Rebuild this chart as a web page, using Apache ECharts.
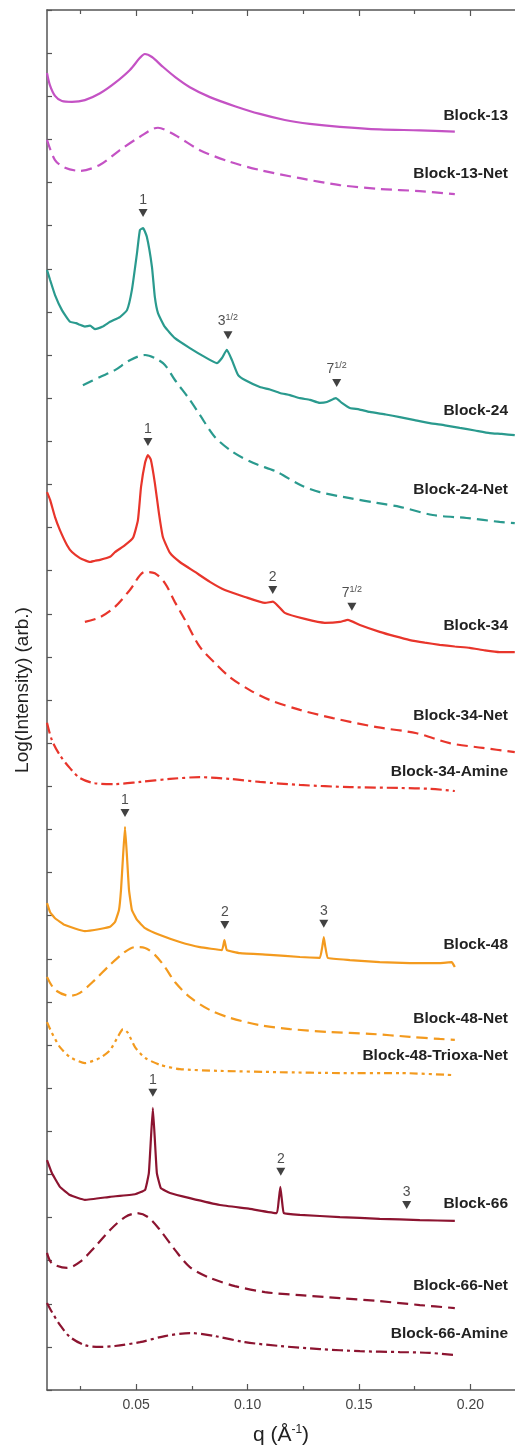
<!DOCTYPE html>
<html><head><meta charset="utf-8">
<script src="https://cdn.jsdelivr.net/npm/echarts@6/dist/echarts.min.js"></script>
<style>html,body{margin:0;padding:0;background:#fff}#c{width:515px;height:1451px}</style>
</head><body><div id="c"></div>
<script>
// ---------- DATA (q in 1/Å, log-intensity in arbitrary offset units) ----------
const xTickLabels = [0.05, 0.10, 0.15, 0.20];
const xMinorTicks = [0.025, 0.075, 0.125, 0.175];

const block13 = [[0.0100,30.54],[0.0113,30.26],[0.0136,30.01],[0.0167,29.89],[0.0212,29.87],[0.0270,29.91],[0.0338,30.07],[0.0405,30.31],[0.0472,30.61],[0.0517,30.89],[0.0539,30.98],[0.0571,30.91],[0.0616,30.70],[0.0674,30.45],[0.0741,30.21],[0.0831,29.98],[0.0943,29.77],[0.1055,29.59],[0.1167,29.45],[0.1279,29.36],[0.1414,29.29],[0.1593,29.23],[0.1773,29.21],[0.1930,29.18]];
const block13Net = [[0.0100,28.99],[0.0136,28.52],[0.0181,28.34],[0.0248,28.27],[0.0338,28.41],[0.0427,28.75],[0.0517,29.06],[0.0598,29.27],[0.0674,29.10],[0.0786,28.75],[0.0921,28.48],[0.1055,28.29],[0.1235,28.10],[0.1414,27.94],[0.1593,27.85],[0.1773,27.80],[0.1930,27.73]];
const block24 = [[0.0100,25.97],[0.0114,25.74],[0.0136,25.39],[0.0167,25.04],[0.0203,24.77],[0.0230,24.74],[0.0248,24.70],[0.0270,24.66],[0.0293,24.68],[0.0315,24.60],[0.0350,24.66],[0.0383,24.77],[0.0427,24.88],[0.0459,25.04],[0.0481,25.51],[0.0504,26.37],[0.0517,26.90],[0.0531,26.94],[0.0548,26.74],[0.0571,26.04],[0.0584,25.34],[0.0598,24.97],[0.0629,24.65],[0.0674,24.39],[0.0741,24.16],[0.0809,23.95],[0.0862,23.81],[0.0885,23.93],[0.0907,24.12],[0.0930,23.88],[0.0957,23.54],[0.0988,23.42],[0.1055,23.26],[0.1100,23.20],[0.1145,23.12],[0.1190,23.07],[0.1235,23.00],[0.1280,22.96],[0.1324,22.89],[0.1356,22.91],[0.1396,23.00],[0.1423,22.89],[0.1459,22.77],[0.1500,22.74],[0.1548,22.68],[0.1620,22.62],[0.1683,22.56],[0.1750,22.49],[0.1818,22.42],[0.1885,22.37],[0.1952,22.31],[0.2020,22.25],[0.2087,22.19],[0.2140,22.17],[0.2199,22.14]];
const block24Net = [[0.0261,23.30],[0.0338,23.49],[0.0405,23.65],[0.0472,23.88],[0.0540,24.00],[0.0584,23.93],[0.0629,23.77],[0.0674,23.42],[0.0741,22.96],[0.0786,22.61],[0.0853,22.10],[0.0934,21.75],[0.1024,21.50],[0.1131,21.29],[0.1235,20.99],[0.1324,20.82],[0.1459,20.68],[0.1580,20.57],[0.1683,20.48],[0.1831,20.29],[0.1983,20.22],[0.2131,20.13],[0.2199,20.10]];
const block34 = [[0.0100,20.82],[0.0114,20.64],[0.0136,20.24],[0.0158,19.94],[0.0190,19.59],[0.0212,19.43],[0.0248,19.29],[0.0270,19.24],[0.0293,19.20],[0.0315,19.23],[0.0338,19.25],[0.0383,19.32],[0.0405,19.43],[0.0450,19.59],[0.0486,19.76],[0.0508,20.17],[0.0522,20.94],[0.0540,21.50],[0.0553,21.68],[0.0566,21.57],[0.0584,21.03],[0.0602,20.34],[0.0620,19.78],[0.0652,19.41],[0.0696,19.20],[0.0764,18.97],[0.0831,18.74],[0.0898,18.55],[0.0988,18.39],[0.1078,18.25],[0.1114,18.28],[0.1167,18.02],[0.1257,17.88],[0.1347,17.79],[0.1414,17.81],[0.1450,17.86],[0.1504,17.74],[0.1593,17.58],[0.1660,17.48],[0.1728,17.39],[0.1795,17.33],[0.1862,17.28],[0.1930,17.24],[0.1997,17.21],[0.2065,17.15],[0.2131,17.11],[0.2199,17.11]];
const block34Net = [[0.0270,17.81],[0.0338,17.92],[0.0405,18.16],[0.0472,18.55],[0.0540,18.97],[0.0584,18.94],[0.0629,18.71],[0.0674,18.27],[0.0719,17.86],[0.0786,17.23],[0.0853,16.86],[0.0921,16.53],[0.1010,16.23],[0.1100,16.00],[0.1235,15.77],[0.1383,15.58],[0.1580,15.37],[0.1759,15.23],[0.1907,15.00],[0.2055,14.89],[0.2199,14.79]];
const block34Amine = [[0.0100,15.47],[0.0122,15.07],[0.0158,14.72],[0.0203,14.42],[0.0248,14.19],[0.0315,14.07],[0.0405,14.05],[0.0517,14.10],[0.0652,14.17],[0.0786,14.21],[0.0921,14.17],[0.1055,14.10],[0.1235,14.03],[0.1459,13.98],[0.1683,13.96],[0.1818,13.94],[0.1930,13.89]];
const block48 = [[0.0100,11.29],[0.0114,11.08],[0.0136,10.94],[0.0181,10.78],[0.0270,10.64],[0.0338,10.69],[0.0383,10.74],[0.0405,10.85],[0.0423,11.13],[0.0432,11.59],[0.0441,12.36],[0.0450,13.06],[0.0459,12.36],[0.0468,11.59],[0.0481,11.13],[0.0504,10.90],[0.0540,10.71],[0.0607,10.55],[0.0696,10.39],[0.0786,10.27],[0.0885,10.20],[0.0896,10.43],[0.0907,10.20],[0.0966,10.13],[0.1100,10.09],[0.1235,10.04],[0.1324,10.02],[0.1335,10.27],[0.1342,10.50],[0.1349,10.27],[0.1360,10.02],[0.1459,9.97],[0.1593,9.92],[0.1728,9.90],[0.1862,9.90],[0.1916,9.92],[0.1930,9.81]];
const block48Net = [[0.0100,9.58],[0.0136,9.28],[0.0203,9.14],[0.0248,9.21],[0.0315,9.51],[0.0383,9.86],[0.0450,10.16],[0.0495,10.27],[0.0540,10.25],[0.0584,10.09],[0.0629,9.81],[0.0674,9.46],[0.0741,9.11],[0.0831,8.81],[0.0921,8.63],[0.1055,8.46],[0.1190,8.37],[0.1369,8.30],[0.1548,8.26],[0.1728,8.19],[0.1862,8.14],[0.1930,8.12]];
const block48TrioxaNet = [[0.0100,8.53],[0.0122,8.28],[0.0158,7.95],[0.0203,7.72],[0.0270,7.58],[0.0338,7.70],[0.0383,7.88],[0.0418,8.19],[0.0441,8.37],[0.0463,8.28],[0.0495,7.95],[0.0540,7.70],[0.0607,7.54],[0.0696,7.44],[0.0876,7.40],[0.1145,7.37],[0.1414,7.35],[0.1683,7.35],[0.1930,7.30]];
const block66 = [[0.0100,5.33],[0.0122,5.03],[0.0158,4.71],[0.0203,4.52],[0.0270,4.41],[0.0383,4.48],[0.0495,4.54],[0.0540,4.64],[0.0557,5.03],[0.0566,5.80],[0.0575,6.54],[0.0584,5.80],[0.0593,5.03],[0.0611,4.68],[0.0652,4.57],[0.0741,4.45],[0.0876,4.29],[0.1010,4.20],[0.1131,4.10],[0.1140,4.41],[0.1147,4.71],[0.1154,4.41],[0.1163,4.10],[0.1235,4.06],[0.1414,4.01],[0.1593,3.97],[0.1773,3.94],[0.1930,3.92]];
const block66Net = [[0.0100,3.18],[0.0122,2.94],[0.0190,2.83],[0.0248,2.97],[0.0315,3.32],[0.0383,3.71],[0.0450,4.01],[0.0504,4.10],[0.0553,4.01],[0.0607,3.71],[0.0674,3.25],[0.0741,2.85],[0.0831,2.60],[0.0943,2.41],[0.1078,2.27],[0.1235,2.20],[0.1414,2.13],[0.1593,2.06],[0.1773,1.97],[0.1930,1.90]];
const block66Amine = [[0.0100,2.02],[0.0122,1.81],[0.0158,1.51],[0.0203,1.23],[0.0270,1.04],[0.0338,1.00],[0.0405,1.02],[0.0517,1.11],[0.0629,1.25],[0.0741,1.32],[0.0853,1.25],[0.0988,1.11],[0.1145,1.02],[0.1324,0.95],[0.1504,0.90],[0.1683,0.88],[0.1818,0.86],[0.1930,0.81]];

// peak index marks: [q, level, label]
const peakMarks = [
  [0.0531, 27.29, '1'], [0.0912, 24.46, '3{s|1/2}'], [0.1400, 23.35, '7{s|1/2}'],
  [0.0553, 21.98, '1'], [0.1113, 18.55, '2'], [0.1468, 18.16, '7{s|1/2}'],
  [0.0450, 13.38, '1'], [0.0898, 10.78, '2'], [0.1342, 10.81, '3'],
  [0.0575, 6.89, '1'], [0.1149, 5.06, '2'], [0.1714, 4.29, '3']
];

const seriesNames = ['Block-13','Block-13-Net','Block-24','Block-24-Net','Block-34','Block-34-Net','Block-34-Amine','Block-48','Block-48-Net','Block-48-Trioxa-Net','Block-66','Block-66-Net','Block-66-Amine'];
const seriesData = [block13, block13Net, block24, block24Net, block34, block34Net, block34Amine, block48, block48Net, block48TrioxaNet, block66, block66Net, block66Amine];

// ---------- STYLE / LAYOUT ----------
const C_MAG = '#c452c4', C_TEAL = '#2a9a8e', C_RED = '#e8352b', C_ORA = '#f39a1e', C_DRED = '#8c1430';
const DASH = [11, 6], DASHDOT = [11, 4, 3, 4], DASHDOTDOT = [8, 4, 3, 4, 3, 4];
const seriesStyle = [
  {c: C_MAG, t: 'solid', s: 0.3}, {c: C_MAG, t: DASH, s: 0.3},
  {c: C_TEAL, t: 'solid', s: 0.15}, {c: C_TEAL, t: DASH, s: 0.3},
  {c: C_RED, t: 'solid', s: 0.15}, {c: C_RED, t: DASH, s: 0.3}, {c: C_RED, t: DASHDOT, s: 0.3},
  {c: C_ORA, t: 'solid', s: 0.1}, {c: C_ORA, t: DASH, s: 0.3}, {c: C_ORA, t: DASHDOTDOT, s: 0.2},
  {c: C_DRED, t: 'solid', s: 0.1}, {c: C_DRED, t: DASH, s: 0.3}, {c: C_DRED, t: DASHDOT, s: 0.3}
];
const labelTops = [117, 175, 412, 491, 627, 717, 773, 946, 1020, 1057, 1205, 1287, 1335];

const FONT = '"Liberation Sans", Arial, Helvetica, sans-serif';
const chart = echarts.init(document.getElementById('c'), null, {renderer: 'canvas'});

const series = seriesData.map((d, i) => ({
  name: seriesNames[i], type: 'line', data: d, showSymbol: false, symbol: 'none',
  smooth: seriesStyle[i].s, xAxisIndex: 0, yAxisIndex: 0,
  lineStyle: {color: seriesStyle[i].c, width: 2.2, type: seriesStyle[i].t},
  animation: false, z: 2
}));
series.push({
  type: 'scatter', xAxisIndex: 0, yAxisIndex: 0,
  data: peakMarks.map(p => ({value: [p[0], p[1]], lab: p[2]})),
  symbol: 'triangle', symbolRotate: 180, symbolSize: [9, 8],
  itemStyle: {color: '#111'}, animation: false, z: 5,
  label: {
    show: true, position: 'top', distance: 2,
    formatter: p => p.data.lab,
    fontFamily: FONT, fontSize: 14, color: '#222',
    rich: {s: {fontFamily: FONT, fontSize: 9, color: '#222', verticalAlign: 'top', padding: [0, 0, 7, 0]}}
  }
});

const axisCommon = {
  type: 'value', min: 0.01, max: 0.22, splitLine: {show: false},
  axisLine: {show: true, lineStyle: {color: '#555', width: 1.5}}
};

const option = {
  backgroundColor: '#fff',
  animation: false,
  grid: {left: 47, right: 0, top: 10, bottom: 61, containLabel: false},
  xAxis: [
    Object.assign({}, axisCommon, {
      position: 'bottom',
      axisTick: {inside: true, length: 6, customValues: xTickLabels, lineStyle: {color: '#555', width: 1.2}},
      axisLabel: {customValues: xTickLabels, formatter: v => v.toFixed(2), fontFamily: FONT, fontSize: 14, color: '#444', margin: 8},
      name: 'q (Å{s|-1})', nameLocation: 'middle', nameGap: 34,
      nameTextStyle: {fontFamily: FONT, fontSize: 21, color: '#222',
        rich: {s: {fontFamily: FONT, fontSize: 12, color: '#222', verticalAlign: 'top', padding: [0, 0, 10, 0]}}}
    }),
    Object.assign({}, axisCommon, {
      position: 'bottom', axisLine: {show: false},
      axisTick: {inside: true, length: 4, customValues: xMinorTicks, lineStyle: {color: '#555', width: 1.2}},
      axisLabel: {show: false}
    }),
    Object.assign({}, axisCommon, {
      position: 'top',
      axisTick: {inside: true, length: 6, customValues: xTickLabels, lineStyle: {color: '#555', width: 1.2}},
      axisLabel: {show: false}
    }),
    Object.assign({}, axisCommon, {
      position: 'top', axisLine: {show: false},
      axisTick: {inside: true, length: 4, customValues: xMinorTicks, lineStyle: {color: '#555', width: 1.2}},
      axisLabel: {show: false}
    })
  ],
  yAxis: [{
    type: 'value', min: 0, max: 32, interval: 1, position: 'left',
    splitLine: {show: false},
    axisLine: {show: true, lineStyle: {color: '#555', width: 1.5}},
    axisTick: {inside: true, length: 5, lineStyle: {color: '#555', width: 1.2}},
    axisLabel: {show: false},
    name: 'Log(Intensity) (arb.)', nameLocation: 'middle', nameRotate: 90, nameGap: 15,
    nameTextStyle: {fontFamily: FONT, fontSize: 19, color: '#222', padding: [0, 0, 0, 20]}
  }],
  graphic: seriesNames.map((n, i) => ({
    type: 'text', right: 7, top: labelTops[i] - 9, z: 10,
    style: {text: n, font: 'bold 15.5px ' + FONT, fill: '#222', textAlign: 'right'}
  })),
  series: series
};
chart.setOption(option);
</script>
</body></html>
